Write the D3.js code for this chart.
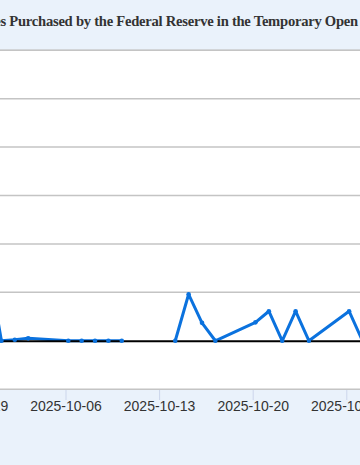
<!DOCTYPE html>
<html>
<head>
<meta charset="utf-8">
<script src="https://cdn.jsdelivr.net/npm/d3@7"></script>
<style>
  html, body { margin: 0; padding: 0; background: #eaf2fb; }
  svg { display: block; }
</style>
</head>
<body>
<svg id="chart" width="360" height="465"></svg>
<script>
// ---- data ----
const titleText = "Overnight Repurchase Agreements: Treasury Securities Purchased by the Federal Reserve in the Temporary Open Market Operations";
const titleHiddenPrefix = "Overnight Repurchase Agreements: Treasury Securitie";
const dates = ["2025-09-30","2025-10-01","2025-10-02","2025-10-03","2025-10-06","2025-10-07","2025-10-08","2025-10-09","2025-10-10","2025-10-13","2025-10-14","2025-10-15","2025-10-16","2025-10-17","2025-10-20","2025-10-21","2025-10-22","2025-10-23","2025-10-24","2025-10-27","2025-10-28"];
const values = [1.6, 0, 0.02, 0.05, 0, 0, 0, 0, 0, null, 0, 0.96, 0.37, 0, 0.38, 0.61, 0, 0.61, 0, 0.61, 0];
const tickDates = ["2025-09-29","2025-10-06","2025-10-13","2025-10-20","2025-10-27"];
const yTicks = [-1, 0, 1, 2, 3, 4, 5, 6];

// ---- layout ----
const W = 360, H = 465;
const headerH = 49.5;
const plotTop = 50.2, plotBottom = 389.2;
const pointOffsetHours = 5;
const parse = d3.utcParse("%Y-%m-%d");

const svg = d3.select("#chart");

// backgrounds
svg.append("rect").attr("x", 0).attr("y", 0).attr("width", W).attr("height", H).attr("fill", "#eaf2fb");
svg.append("rect").attr("x", 0).attr("y", plotTop).attr("width", W).attr("height", plotBottom - plotTop).attr("fill", "#ffffff");

const x = d3.scaleUtc()
  .domain([parse("2025-10-06"), parse("2025-10-20")])
  .range([65.5, 252.7]);
const y = d3.scaleLinear().domain([-1, 6]).range([plotBottom, plotTop]);

// grid lines
svg.append("g").selectAll("line").data(yTicks.filter(v => v !== 0)).join("line")
  .attr("x1", 0).attr("x2", W)
  .attr("y1", d => y(d)).attr("y2", d => y(d))
  .attr("stroke", "#c4c4c4").attr("stroke-width", 1.5);

// x axis ticks + labels
const xAxis = d3.axisBottom(x)
  .tickValues(tickDates.map(parse))
  .tickFormat(d3.utcFormat("%Y-%m-%d"))
  .tickSizeOuter(0)
  .tickSize(10)
  .tickPadding(1);
const gx = svg.append("g").attr("transform", `translate(0,${plotBottom + 0.8})`).call(xAxis);
gx.select(".domain").remove();
gx.selectAll(".tick line").attr("stroke", "#ccd6eb").attr("stroke-width", 1);
gx.selectAll(".tick text")
  .attr("fill", "#333333")
  .attr("font-family", "'Liberation Sans', Arial, Helvetica, sans-serif")
  .attr("font-size", "14px");

// series
const data = dates.map((d, i) => ({ date: new Date(parse(d).getTime() + pointOffsetHours * 3600e3), v: values[i] }));
const line = d3.line().defined(d => d.v != null).x(d => x(d.date)).y(d => y(d.v));
svg.append("path").datum(data).attr("d", line)
  .attr("fill", "none").attr("stroke", "#0b72de").attr("stroke-width", 3)
  .attr("stroke-linejoin", "round").attr("stroke-linecap", "round");

// zero line
svg.append("line").attr("x1", 0).attr("x2", W).attr("y1", y(0) + 0.4).attr("y2", y(0) + 0.4)
  .attr("stroke", "#000").attr("stroke-width", 2);

// markers
svg.append("g").selectAll("circle").data(data.filter(d => d.v != null)).join("circle")
  .attr("cx", d => x(d.date)).attr("cy", d => y(d.v)).attr("r", 2.3)
  .attr("fill", "#0b72de");

// header
svg.append("rect").attr("x", 0).attr("y", 0).attr("width", W).attr("height", headerH).attr("fill", "#eaf2fb");
svg.append("line").attr("x1", 0).attr("x2", W).attr("y1", plotTop).attr("y2", plotTop)
  .attr("stroke", "#c4c4c4").attr("stroke-width", 1.6);

const titleFont = "'Liberation Serif', 'Times New Roman', Times, serif";
const titleSize = "14.6px", titleSpacing = "-0.25px";
const tmp = svg.append("text").attr("font-family", titleFont).attr("font-weight", "bold")
  .attr("font-size", titleSize).attr("letter-spacing", titleSpacing).text(titleHiddenPrefix);
const prefixW = tmp.node().getComputedTextLength();
tmp.remove();
svg.append("text")
  .attr("x", 0.5 - prefixW).attr("y", 26)
  .attr("font-family", titleFont).attr("font-weight", "bold")
  .attr("font-size", titleSize).attr("letter-spacing", titleSpacing)
  .attr("fill", "#333333")
  .text(titleText);
</script>
</body>
</html>
